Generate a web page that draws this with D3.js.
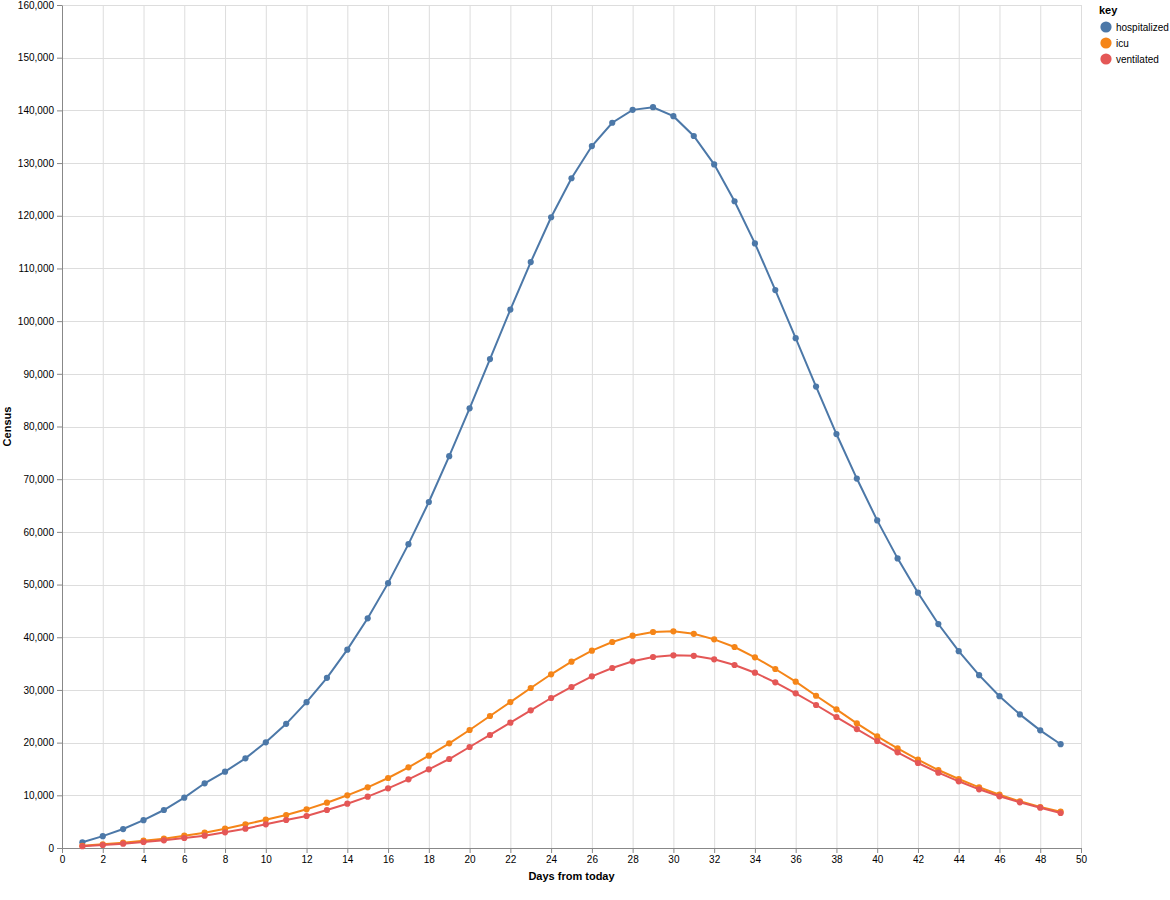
<!DOCTYPE html>
<html>
<head>
<meta charset="utf-8">
<script src="https://cdn.jsdelivr.net/npm/d3@7"></script>
<style>
  body { margin: 0; background: #fff; }
  text { font-family: "Liberation Sans", Arial, sans-serif; }
</style>
</head>
<body>
<script>
// days from today
var days = [1,2,3,4,5,6,7,8,9,10,11,12,13,14,15,16,17,18,19,20,21,22,23,24,25,
            26,27,28,29,30,31,32,33,34,35,36,37,38,39,40,41,42,43,44,45,46,47,48,49];

var hospitalized = [1080,2250,3600,5280,7210,9550,12280,14480,17020,20060,23570,27680,32300,37650,43600,
                    50270,57670,65670,74370,83450,92800,102200,111200,119720,127120,133230,137650,140100,140600,138900,
                    135140,129750,122750,114750,105900,96760,87580,78570,70120,62180,54970,48460,42510,37360,32800,
                    28820,25360,22330,19700];

var icu = [420,700,1010,1390,1770,2340,2900,3670,4490,5380,6260,7340,8600,10000,11520,
           13290,15310,17520,19870,22400,25050,27700,30370,32970,35360,37450,39100,40300,41000,41130,
           40650,39600,38150,36190,33970,31570,28900,26320,23660,21200,18920,16760,14800,13090,11520,
           10120,8860,7780,6890];

var ventilated = [330,570,820,1140,1460,1900,2340,2970,3670,4490,5310,6070,7210,8410,9740,
                  11330,13040,14940,16890,19170,21450,23780,26130,28470,30560,32590,34160,35430,36250,36570,
                  36470,35810,34730,33270,31440,29360,27140,24860,22580,20310,18160,16130,14290,12660,11140,
                  9810,8670,7650,6640];

var keys = ["hospitalized", "icu", "ventilated"];
var colors = ["#4c78a8", "#f58518", "#e45756"];

var series = [hospitalized, icu, ventilated].map(function(vals, i) {
    return { key: keys[i], values: days.map(function(d, j) { return { day: d, value: vals[j] }; }) };
});

var width = 1170, height = 900;
var margin = { left: 62, right: 89, top: 5, bottom: 52 };
var w = width - margin.left - margin.right; // ~1019
var h = height - margin.top - margin.bottom; // 843

var svg = d3.select("body").append("svg")
    .attr("width", width)
    .attr("height", height);

var g = svg.append("g").attr("transform", "translate(" + margin.left + "," + margin.top + ")");

var x = d3.scaleLinear().domain([0, 50]).range([0, w]);
var y = d3.scaleLinear().domain([0, 160000]).range([h, 0]);
var color = d3.scaleOrdinal().domain(keys).range(colors);

// grid
g.append("g")
    .selectAll("line")
    .data(d3.range(0, 51, 2))
    .enter().append("line")
    .attr("x1", function(d) { return x(d) + 0.5; })
    .attr("x2", function(d) { return x(d) + 0.5; })
    .attr("y1", 0).attr("y2", h)
    .attr("stroke", "#ddd");

g.append("g")
    .selectAll("line")
    .data(d3.range(0, 160001, 10000))
    .enter().append("line")
    .attr("y1", function(d) { return Math.round(y(d)) + 0.5; })
    .attr("y2", function(d) { return Math.round(y(d)) + 0.5; })
    .attr("x1", 0).attr("x2", w)
    .attr("stroke", "#ddd");

// axes
var xAxis = g.append("g")
    .attr("transform", "translate(0," + h + ")")
    .call(d3.axisBottom(x).tickValues(d3.range(0, 51, 2)).tickSize(5).tickPadding(3).tickSizeOuter(0));

var yAxis = g.append("g")
    .call(d3.axisLeft(y).tickValues(d3.range(0, 160001, 10000)).tickFormat(d3.format(",")).tickSize(5).tickPadding(3).tickSizeOuter(0));

[xAxis, yAxis].forEach(function(a) {
    a.select(".domain").attr("stroke", "#888");
    a.selectAll(".tick line").attr("stroke", "#888");
    a.selectAll(".tick text")
        .attr("fill", "#000")
        .style("font-size", "10px")
        .style("font-family", "'Liberation Sans', Arial, sans-serif");
});

// axis titles
svg.append("text")
    .attr("x", margin.left + w / 2)
    .attr("y", margin.top + h + 32)
    .attr("text-anchor", "middle")
    .style("font-size", "11px")
    .style("font-weight", "bold")
    .text("Days from today");

svg.append("text")
    .attr("transform", "translate(11," + (margin.top + h / 2) + ") rotate(-90)")
    .attr("text-anchor", "middle")
    .style("font-size", "11px")
    .style("font-weight", "bold")
    .text("Census");

// lines
var line = d3.line()
    .x(function(d) { return x(d.day); })
    .y(function(d) { return y(d.value); });

var sg = g.selectAll(".series")
    .data(series)
    .enter().append("g")
    .attr("class", "series");

sg.append("path")
    .attr("d", function(d) { return line(d.values); })
    .attr("fill", "none")
    .attr("stroke", function(d) { return color(d.key); })
    .attr("stroke-width", 2);

sg.selectAll("circle")
    .data(function(d) { return d.values.map(function(v) { return { key: d.key, day: v.day, value: v.value }; }); })
    .enter().append("circle")
    .attr("cx", function(d) { return x(d.day); })
    .attr("cy", function(d) { return y(d.value); })
    .attr("r", 3.1)
    .attr("fill", function(d) { return color(d.key); });

// legend
var legend = svg.append("g").attr("transform", "translate(1099,0)");

legend.append("text")
    .attr("x", 0).attr("y", 14)
    .style("font-size", "11px")
    .style("font-weight", "bold")
    .text("key");

var li = legend.selectAll(".li")
    .data(keys)
    .enter().append("g")
    .attr("transform", function(d, i) { return "translate(0," + (27 + i * 16) + ")"; });

li.append("circle")
    .attr("cx", 7).attr("cy", 0).attr("r", 5.6)
    .attr("fill", function(d) { return color(d); });

li.append("text")
    .attr("x", 17).attr("y", 3.5)
    .style("font-size", "10px")
    .text(function(d) { return d; });
</script>
</body>
</html>
